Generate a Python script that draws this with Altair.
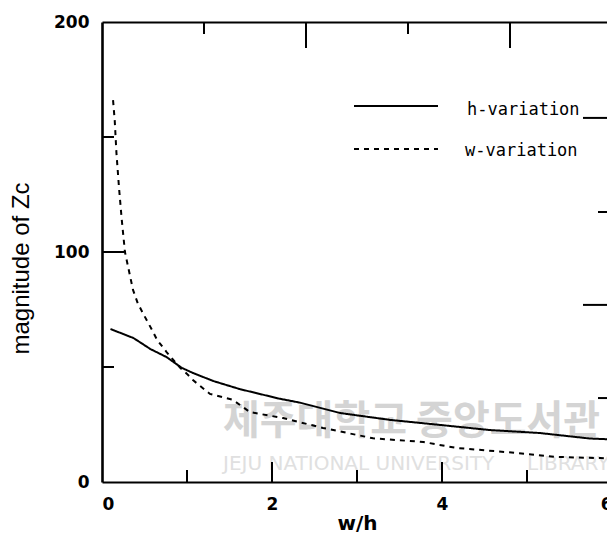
import altair as alt
import pandas as pd

# ---- data ----
h_x = [0.10, 0.37, 0.57, 0.76, 0.94, 1.07, 1.31, 1.62, 2.09, 2.33, 2.80, 3.39, 3.98, 4.56, 5.15, 5.74, 6.00]
h_y = [66.5, 62.6, 57.8, 54.3, 49.6, 47.4, 43.9, 40.4, 36.2, 34.5, 30.0, 27.0, 24.8, 22.6, 21.3, 18.9, 18.5]

w_x = [0.13, 0.15, 0.17, 0.20, 0.23, 0.27, 0.365, 0.42, 0.48, 0.59, 0.65, 0.76, 0.92, 1.00, 1.07, 1.27,
       1.54, 1.74, 2.13, 2.60, 3.19, 3.78, 4.17, 4.76, 5.35, 5.86, 6.00]
w_y = [166.0, 157.0, 143.0, 128.0, 115.0, 100.0, 83.5, 77.8, 73.5, 66.0, 61.7, 56.5, 49.6, 47.0, 44.3, 38.3,
       35.7, 30.4, 27.8, 23.5, 19.0, 17.4, 14.8, 13.0, 10.9, 10.4, 10.0]

series_names = ["h-variation", "w-variation"]

x_labels = [0, 2, 4, 6]
y_labels = [0, 100, 200]
bottom_major = [2, 4]
bottom_minor = [1, 3, 5]
left_major = [100]
left_minor = [50, 150]
top_short = [1.2, 3.6]
top_long = [2.4, 4.8]
right_long = [158.3, 77.0]
right_short = [117.4, 36.5]

wm_korean = "제주대학교 중앙도서관"
wm_english_1 = "JEJU NATIONAL UNIVERSITY"
wm_english_2 = "LIBRARY"

# ---- layout ----
W, H = 505, 460
XR = 510  # pixel range of x 0..6 (right end lies past the window edge)

df = pd.DataFrame(
    {"x": h_x + w_x,
     "y": h_y + w_y,
     "series": [series_names[0]] * len(h_x) + [series_names[1]] * len(w_x)}
)

xscale = alt.Scale(domain=[0, 6], range=[0, XR], nice=False, zero=False)
yscale = alt.Scale(domain=[0, 200], nice=False)
dash_scale = alt.Scale(domain=series_names, range=[[1, 0], [5, 5]])

x_axis = alt.Axis(orient="bottom", values=x_labels, ticks=False, grid=False, domain=True,
                  domainColor="black", domainWidth=2.2, labelFont="DejaVu Sans",
                  labelFontWeight="bold", labelFontSize=17, labelColor="black", labelPadding=14,
                  title="w/h", titleFont="DejaVu Sans", titleFontWeight="bold",
                  titleFontSize=20, titleColor="black", titlePadding=1)
y_axis = alt.Axis(orient="left", values=y_labels, ticks=False, grid=False, domain=True,
                  domainColor="black", domainWidth=2.6, labelFont="DejaVu Sans",
                  labelFontWeight="bold", labelFontSize=17, labelColor="black", labelPadding=13,
                  title="magnitude of Zc", titleFont="Liberation Sans",
                  titleFontWeight="normal", titleFontSize=24, titleColor="black",
                  titleX=-69, titleY=246, titleAlign="center", titleBaseline="bottom",
                  titleAngle=270)

lines = alt.Chart(df).mark_line(color="black", strokeWidth=2, clip=True).encode(
    x=alt.X("x:Q", scale=xscale, axis=x_axis),
    y=alt.Y("y:Q", scale=yscale, axis=y_axis),
    strokeDash=alt.StrokeDash("series:N", scale=dash_scale, legend=None),
    detail="series:N",
)

layers = []

# watermark
wm1 = alt.Chart(pd.DataFrame({"t": [wm_korean]})).mark_text(
    align="left", baseline="middle", font="Noto Sans CJK KR", fontSize=40, fontWeight="bold",
    color="#d4d4d4"
).encode(x=alt.value(121), y=alt.value(400), text="t:N")
wm2 = alt.Chart(pd.DataFrame({"t": [wm_english_1]})).mark_text(
    align="left", baseline="middle", font="DejaVu Sans", fontSize=20, color="#e0e0e0"
).encode(x=alt.value(121), y=alt.value(442), text="t:N")
wm3 = alt.Chart(pd.DataFrame({"t": [wm_english_2]})).mark_text(
    align="left", baseline="middle", font="DejaVu Sans", fontSize=20, color="#e0e0e0"
).encode(x=alt.value(425), y=alt.value(442), text="t:N")
layers += [wm1, wm2, wm3]

layers.append(lines)


def vticks(vals, y0, y1, axis=None):
    return alt.Chart(pd.DataFrame({"v": vals})).mark_rule(color="black", strokeWidth=2).encode(
        x=alt.X("v:Q", scale=xscale, axis=axis), y=alt.value(y0), y2=alt.value(y1))


def hticks(vals, x0, x1):
    return alt.Chart(pd.DataFrame({"v": vals})).mark_rule(color="black", strokeWidth=2).encode(
        y=alt.Y("v:Q", scale=yscale, axis=None), x=alt.value(x0), x2=alt.value(x1))


top_axis = alt.Axis(orient="top", labels=False, ticks=False, grid=False, title=None,
                    domain=True, domainColor="black", domainWidth=2)

layers += [
    vticks(bottom_major, H, H - 20),
    vticks(bottom_minor, H, H - 12),
    vticks(top_short, 0, 12, axis=top_axis),
    vticks(top_long, 0, 26),
    hticks(left_major, 0, 22),
    hticks(left_minor, 0, 12),
    hticks(right_long, XR - 29, XR),
    hticks(right_short, XR - 14, XR),
]

# legend
leg_rule_y = [84, 127]
leg_text_y = [93, 134]
for i, name in enumerate(series_names):
    d = pd.DataFrame({"series": [name]})
    layers.append(
        alt.Chart(d).mark_rule(color="black", strokeWidth=2).encode(
            x=alt.value(252), x2=alt.value(336), y=alt.value(leg_rule_y[i]),
            strokeDash=alt.StrokeDash("series:N", scale=dash_scale, legend=None))
    )
    layers.append(
        alt.Chart(d).mark_text(align="left", baseline="alphabetic", font="DejaVu Sans Mono",
                               fontSize=17, color="black").encode(
            x=alt.value(365 if i == 0 else 363), y=alt.value(leg_text_y[i]), text="series:N")
    )

chart = alt.layer(*layers).resolve_axis(x="independent", y="independent").properties(
    width=W, height=H,
    autosize=alt.AutoSizeParams(type="none"),
    padding={"left": 102, "top": 22, "right": 0, "bottom": 61},
    background="white",
).configure_view(stroke=None)

chart.save("out.html", embed_options={"renderer": "svg", "actions": False})
